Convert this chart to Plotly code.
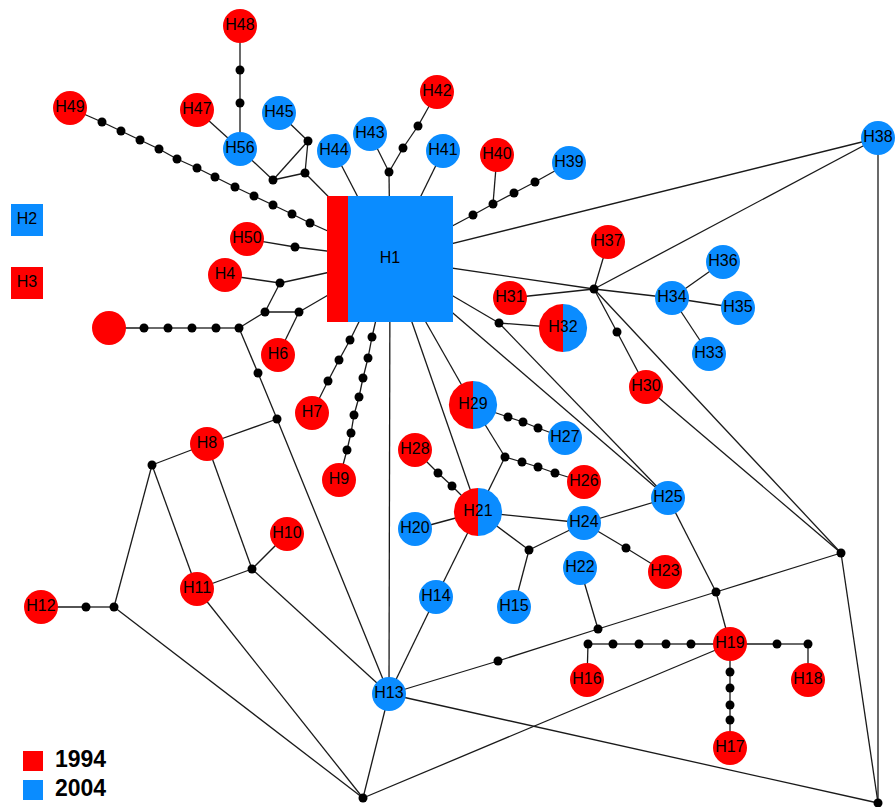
import numpy as np
import plotly.graph_objects as go

RED = "#ff0000"
BLUE = "#0a8cff"
EDGE = "#1a1a1a"
FONT = "Liberation Sans, Arial, sans-serif"

# ---- haplotype data: sample counts per collection year ----
haplotypes = ["H1", "H2", "H3", "H4", "H6", "H7", "H8", "H9", "H10", "H11", "H12",
              "H13", "H14", "H15", "H16", "H17", "H18", "H19", "H20", "H21", "H22",
              "H23", "H24", "H25", "H26", "H27", "H28", "H29", "H30", "H31", "H32",
              "H33", "H34", "H35", "H36", "H37", "H38", "H39", "H40", "H41", "H42",
              "H43", "H44", "H45", "H47", "H48", "H49", "H50", "H56", "H5x"]
count_1994 = [3, 0, 1, 1, 1, 1, 1, 1, 1, 1, 1,
              0, 0, 0, 1, 1, 1, 1, 0, 1, 0,
              1, 0, 0, 1, 0, 1, 1, 1, 1, 1,
              0, 0, 0, 0, 1, 0, 0, 1, 0, 1,
              0, 0, 0, 1, 1, 1, 1, 0, 1]
count_2004 = [15, 1, 0, 0, 0, 0, 0, 0, 0, 0, 0,
              1, 1, 1, 0, 0, 0, 0, 1, 1, 1,
              0, 1, 1, 0, 1, 0, 1, 0, 0, 1,
              1, 1, 1, 1, 0, 1, 1, 0, 1, 0,
              1, 1, 1, 0, 0, 0, 0, 1, 0]
years = ["1994", "2004"]

# ---- network layout (screen coordinates) ----
pos = {
    "H1": (390, 259), "H2": (27, 220), "H3": (27, 283),
    "H4": (225, 275), "H6": (278, 355), "H7": (312, 413), "H8": (207, 444),
    "H9": (339, 480), "H10": (287, 534), "H11": (197, 589), "H12": (41, 607),
    "H13": (389, 694), "H14": (436, 597), "H15": (514, 607), "H16": (587, 680),
    "H17": (730, 748), "H18": (808, 680), "H19": (730, 644), "H20": (415, 529),
    "H21": (478, 512), "H22": (580, 568), "H23": (665, 572), "H24": (584, 523),
    "H25": (668, 498), "H26": (584, 482), "H27": (565, 438), "H28": (415, 450),
    "H29": (473, 405), "H30": (646, 387), "H31": (510, 298), "H32": (563, 328),
    "H33": (709, 354), "H34": (672, 298), "H35": (738, 308), "H36": (723, 262),
    "H37": (608, 242), "H38": (878, 138), "H39": (569, 163), "H40": (497, 155),
    "H41": (443, 151), "H42": (437, 92), "H43": (370, 134), "H44": (334, 151),
    "H45": (279, 113), "H47": (197, 110), "H48": (240, 26), "H49": (70, 108),
    "H50": (247, 239), "H56": (240, 149), "H5x": (109, 328),
}
# median vectors (inferred intermediate haplotypes)
mv = {
    "a1": (240, 70), "a2": (240, 103),
    "b1": (102, 122), "b2": (121, 131), "b3": (140, 140), "b4": (159, 149),
    "b5": (177, 159), "b6": (197, 168), "b7": (215, 177), "b8": (235, 187),
    "b9": (254, 196), "b10": (273, 205), "b11": (292, 214), "b12": (310, 223),
    "c1": (273, 180), "c2": (305, 173), "c3": (308, 141),
    "d1": (389, 172), "d2": (403, 148), "d3": (418, 126),
    "e1": (473, 215), "e2": (493, 204), "e3": (514, 193), "e4": (535, 182),
    "f1": (594, 289), "f2": (617, 332), "g": (841, 553), "br": (878, 803),
    "h1": (499, 323),
    "p1": (508, 417), "p2": (523, 422), "p3": (538, 428),
    "q0": (505, 457), "q1": (522, 462), "q2": (538, 467), "q3": (555, 473),
    "r1": (438, 473), "r2": (452, 486),
    "s": (529, 550), "t": (626, 548), "u": (598, 629), "v": (716, 592), "w": (498, 661),
    "x1": (691, 644), "x2": (666, 644), "x3": (639, 644), "x4": (613, 644), "x5": (588, 644),
    "y1": (777, 644), "y2": (808, 644),
    "z1": (730, 672), "z2": (730, 688), "z3": (730, 705), "z4": (730, 720),
    "bm": (363, 798),
    "i1": (295, 247), "j1": (280, 283), "j2": (265, 312), "j3": (299, 312), "j4": (239, 328),
    "l1": (216, 328), "l2": (192, 328), "l3": (168, 328), "l4": (144, 328),
    "n1": (258, 373), "n2": (277, 419),
    "o1": (350, 340), "o2": (339, 360), "o3": (328, 381),
    "k1": (372, 337), "k2": (368, 358), "k3": (363, 378), "k4": (359, 397),
    "k5": (354, 415), "k6": (351, 433), "k7": (347, 450),
    "mA": (152, 465), "mB": (252, 569), "mC": (114, 607), "mD": (86, 607),
}
pos.update(mv)

# mutational paths through the network
paths = [
    ["H48", "a1", "a2", "H56"], ["H47", "H56"],
    ["H56", "c1", "c2", "H1"], ["c1", "c3", "c2"], ["c3", "H45"],
    ["H49", "b1", "b2", "b3", "b4", "b5", "b6", "b7", "b8", "b9", "b10", "b11", "b12", "H1"],
    ["H44", "H1"], ["H43", "d1", "H1"], ["d1", "d2", "d3", "H42"], ["H41", "H1"],
    ["H1", "e1", "e2", "e3", "e4", "H39"], ["H40", "e2"],
    ["H1", "H38"], ["H1", "f1", "H34"], ["H31", "f1"], ["H37", "f1"], ["f1", "H38"],
    ["f1", "f2", "H30"], ["f1", "g"],
    ["H34", "H36"], ["H34", "H35"], ["H34", "H33"],
    ["H38", "br"], ["H30", "g"], ["g", "br"],
    ["H1", "h1", "H32"], ["h1", "H25"], ["H1", "H25"],
    ["H1", "H29"], ["H1", "H21"], ["H1", "H13"],
    ["H29", "p1", "p2", "p3", "H27"],
    ["H29", "q0", "q1", "q2", "q3", "H26"], ["q0", "H21"],
    ["H28", "r1", "r2", "H21"],
    ["H20", "H21"], ["H21", "H24"], ["H21", "s", "H24"], ["s", "H15"],
    ["H24", "H25"], ["H24", "t", "H23"],
    ["H21", "H14", "H13"], ["H22", "u"],
    ["H25", "v", "H19"], ["g", "v", "u", "w", "H13"],
    ["H19", "x1", "x2", "x3", "x4", "x5", "H16"],
    ["H19", "y1", "y2", "H18"],
    ["H19", "z1", "z2", "z3", "z4", "H17"],
    ["H19", "bm", "H13"], ["H13", "br"],
    ["H50", "i1", "H1"], ["H4", "j1", "H1"], ["j1", "j2", "j3", "H1"], ["j3", "H6"],
    ["j2", "j4", "l1", "l2", "l3", "l4", "H5x"],
    ["j4", "n1", "n2", "H13"], ["n2", "H8"],
    ["H1", "o1", "o2", "o3", "H7"],
    ["H1", "k1", "k2", "k3", "k4", "k5", "k6", "k7", "H9"],
    ["H8", "mA", "H11"], ["H8", "mB", "H10"], ["mB", "H11"], ["mB", "H13"],
    ["mA", "mC", "mD", "H12"], ["mC", "bm"], ["H11", "bm"],
]

BASE_R = 17.0  # radius of a single-sample haplotype

fig = go.Figure()

# edges
ex, ey = [], []
for p in paths:
    for a, b in zip(p[:-1], p[1:]):
        ex += [pos[a][0], pos[b][0], None]
        ey += [pos[a][1], pos[b][1], None]
fig.add_trace(go.Scatter(x=ex, y=ey, mode="lines",
                         line=dict(color=EDGE, width=1.3), hoverinfo="skip"))

# median vectors
fig.add_trace(go.Scatter(x=[mv[k][0] for k in mv], y=[mv[k][1] for k in mv],
                         mode="markers",
                         marker=dict(color="black", size=9, opacity=1, line_width=0),
                         hoverinfo="skip"))

# haplotype circles
single_x, single_y, single_s, single_c = [], [], [], []
square_x, square_y, square_c = [], [], []
label_x, label_y, label_t = [], [], []
for name, n1, n2 in zip(haplotypes, count_1994, count_2004):
    cx, cy = pos[name]
    n = n1 + n2
    r = BASE_R * np.sqrt(n)
    label = "" if name == "H5x" else name
    if name == "H1":
        # large central haplotype drawn as a square split by year share
        side = 126.0
        x0, y0 = cx - side / 2, cy - side / 2
        xs = x0 + side * n1 / n
        fig.add_trace(go.Scatter(x=[x0, xs, xs, x0, x0], y=[y0, y0, y0 + side, y0 + side, y0],
                                 fill="toself", fillcolor=RED, mode="lines",
                                 line=dict(width=0, color=RED), hoverinfo="skip"))
        fig.add_trace(go.Scatter(x=[xs, x0 + side, x0 + side, xs, xs],
                                 y=[y0, y0, y0 + side, y0 + side, y0],
                                 fill="toself", fillcolor=BLUE, mode="lines",
                                 line=dict(width=0, color=BLUE), hoverinfo="skip"))
    elif name in ("H2", "H3"):
        square_x.append(cx); square_y.append(cy)
        square_c.append(RED if n1 else BLUE)
    elif n1 and n2:
        # shared haplotype: left half 1994, right half 2004
        for th0, th1, col in ((np.pi / 2, 3 * np.pi / 2, RED), (-np.pi / 2, np.pi / 2, BLUE)):
            th = np.linspace(th0, th1, 60)
            px = list(cx + r * np.cos(th)) + [cx]
            py = list(cy + r * np.sin(th)) + [cy + r * np.sin(th0)]
            fig.add_trace(go.Scatter(x=px, y=py, fill="toself", fillcolor=col, mode="lines",
                                     line=dict(width=0, color=col), hoverinfo="skip"))
    else:
        single_x.append(cx); single_y.append(cy)
        single_s.append(2 * r)
        single_c.append(RED if n1 else BLUE)
    label_x.append(cx); label_y.append(cy); label_t.append(label)

fig.add_trace(go.Scatter(x=single_x, y=single_y, mode="markers",
                         marker=dict(size=single_s, color=single_c, opacity=1, line_width=0),
                         hoverinfo="skip"))
fig.add_trace(go.Scatter(x=square_x, y=square_y, mode="markers",
                         marker=dict(symbol="square", size=32, color=square_c,
                                     opacity=1, line_width=0),
                         hoverinfo="skip"))

# haplotype labels
fig.add_trace(go.Scatter(x=label_x, y=label_y, mode="text", text=label_t,
                         textposition="middle center",
                         textfont=dict(family=FONT, size=16, color="black"),
                         hoverinfo="skip"))

# year key
key_x = [33, 33]
key_y = [761, 790]
fig.add_trace(go.Scatter(x=key_x, y=key_y, mode="markers",
                         marker=dict(symbol="square", size=20, color=[RED, BLUE],
                                     opacity=1, line_width=0),
                         hoverinfo="skip"))
fig.add_trace(go.Scatter(x=[55, 55], y=key_y, mode="text", text=years,
                         textposition="middle right",
                         textfont=dict(family=FONT, size=23, color="black", weight="bold"),
                         hoverinfo="skip"))

fig.update_layout(
    width=896, height=807, margin=dict(l=0, r=0, t=0, b=0),
    paper_bgcolor="white", plot_bgcolor="white", showlegend=False,
    xaxis=dict(range=[0, 896], visible=False, fixedrange=True),
    yaxis=dict(range=[807, 0], visible=False, fixedrange=True),
)
fig.write_html("out.html")
